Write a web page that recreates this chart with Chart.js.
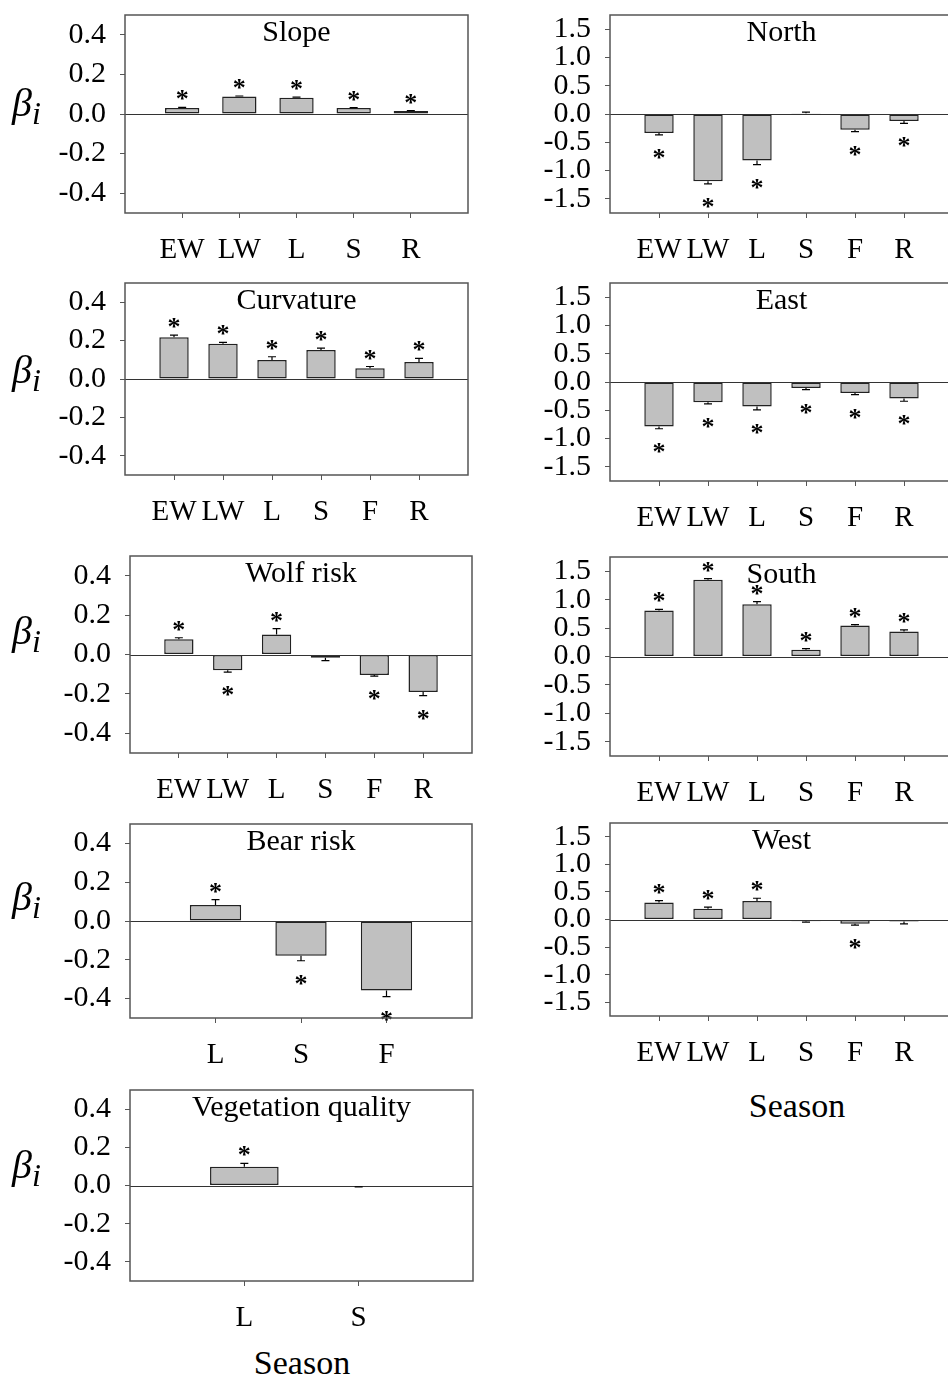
<!DOCTYPE html>
<html>
<head>
<meta charset="utf-8">
<title>Seasonal selection coefficients</title>
<script src="https://cdn.jsdelivr.net/npm/chart.js@4.4.1/dist/chart.umd.min.js"></script>
<style>
  html, body { margin: 0; padding: 0; background: #fff; }
  #figure { position: relative; width: 948px; height: 1378px; overflow: hidden; background: #fff; }
  #figure canvas { position: absolute; }
  .beta { position: absolute; left: 12px; font: italic 40px 'Liberation Serif', serif; line-height: 1; transform: translateY(-50%); white-space: nowrap; }
  .beta sub { font-size: 0.8em; vertical-align: -0.22em; }
  .season { position: absolute; font: 34px 'Liberation Serif', serif; transform: translate(-50%, -50%); white-space: nowrap; }
</style>
</head>
<body>
<div id="figure">
  <div class="season" style="left:302px; top:1363px">Season</div>
  <div class="season" style="left:797px; top:1106px">Season</div>
</div>
<script>
// seasons
const seasonsAll = ['EW', 'LW', 'L', 'S', 'F', 'R'];
const seasonsSlope = ['EW', 'LW', 'L', 'S', 'R'];
const seasonsBear = ['L', 'S', 'F'];
const seasonsVeg = ['L', 'S'];

// y tick labels
const ticksNarrow = [-0.4, -0.2, 0, 0.2, 0.4];
const ticksAspect = [-1.5, -1.0, -0.5, 0, 0.5, 1.0, 1.5];

// coefficients, standard errors and significance (1 = star)
const slopeBeta = [0.030, 0.088, 0.082, 0.030, 0.015];
const slopeSE = [0.003, 0.003, 0.003, 0.002, 0.002];
const slopeSig = [1, 1, 1, 1, 1];

const curvatureBeta = [0.217, 0.183, 0.099, 0.151, 0.056, 0.088];
const curvatureSE = [0.012, 0.008, 0.017, 0.010, 0.009, 0.019];
const curvatureSig = [1, 1, 1, 1, 1, 1];

const wolfBeta = [0.077, -0.080, 0.102, -0.017, -0.104, -0.190];
const wolfSE = [0.008, 0.009, 0.029, 0.014, 0.006, 0.019];
const wolfSig = [1, 1, 1, 0, 1, 1];

const bearBeta = [0.082, -0.179, -0.358];
const bearSE = [0.028, 0.026, 0.032];
const bearSig = [1, 1, 1];

const vegBeta = [0.098, -0.004];
const vegSE = [0.018, 0.003];
const vegSig = [1, 0];

const northBeta = [-0.335, -1.190, -0.824, 0.012, -0.277, -0.124];
const northSE = [0.035, 0.046, 0.070, 0.022, 0.035, 0.040];
const northSig = [1, 1, 1, 0, 1, 1];

const eastBeta = [-0.786, -0.358, -0.434, -0.105, -0.193, -0.293];
const eastSE = [0.040, 0.030, 0.060, 0.030, 0.030, 0.047];
const eastSig = [1, 1, 1, 1, 1, 1];

const southBeta = [0.807, 1.350, 0.917, 0.117, 0.544, 0.440];
const southSE = [0.023, 0.018, 0.047, 0.023, 0.018, 0.030];
const southSig = [1, 1, 1, 1, 1, 1];

const westBeta = [0.307, 0.193, 0.337, -0.030, -0.078, -0.036];
const westSE = [0.036, 0.030, 0.048, 0.018, 0.025, 0.042];
const westSig = [1, 1, 1, 0, 1, 0];

const FONT = "'Liberation Serif', 'Times New Roman', serif";
Chart.defaults.font.family = FONT;
Chart.defaults.color = '#000';

// box = plot frame [left, top, right, bottom] on the page
const panels = [
  { title: 'Slope', seasons: seasonsSlope, beta: slopeBeta, se: slopeSE, sig: slopeSig, ticks: ticksNarrow, lim: 0.5, box: [125, 15, 473, 213], betaY: 106 },
  { title: 'Curvature', seasons: seasonsAll, beta: curvatureBeta, se: curvatureSE, sig: curvatureSig, ticks: ticksNarrow, lim: 0.5, box: [125, 283, 473, 475], betaY: 373 },
  { title: 'Wolf risk', seasons: seasonsAll, beta: wolfBeta, se: wolfSE, sig: wolfSig, ticks: ticksNarrow, lim: 0.5, box: [130, 556, 477, 753], betaY: 634 },
  { title: 'Bear risk', seasons: seasonsBear, beta: bearBeta, se: bearSE, sig: bearSig, ticks: ticksNarrow, lim: 0.5, box: [130, 824, 477, 1018], betaY: 900 },
  { title: 'Vegetation quality', seasons: seasonsVeg, beta: vegBeta, se: vegSE, sig: vegSig, ticks: ticksNarrow, lim: 0.5, box: [130, 1090, 478, 1281], betaY: 1168 },
  { title: 'North', seasons: seasonsAll, beta: northBeta, se: northSE, sig: northSig, ticks: ticksAspect, lim: 1.75, box: [610, 15, 958, 213] },
  { title: 'East', seasons: seasonsAll, beta: eastBeta, se: eastSE, sig: eastSig, ticks: ticksAspect, lim: 1.75, box: [610, 283, 958, 481] },
  { title: 'South', seasons: seasonsAll, beta: southBeta, se: southSE, sig: southSig, ticks: ticksAspect, lim: 1.75, box: [610, 557, 958, 756] },
  { title: 'West', seasons: seasonsAll, beta: westBeta, se: westSE, sig: westSig, ticks: ticksAspect, lim: 1.75, box: [610, 823, 958, 1016] }
];

const TOP_PAD = 20;
const X_AXIS_H = 60;
const AXIS_GREY = '#555';

// zero line, one-sided error bars, stars, frame and panel title
const decorFor = (p) => ({
  id: 'panelDecor',
  afterDatasetsDraw(chart) {
    const { ctx, chartArea: a, scales: { y } } = chart;
    const meta = chart.getDatasetMeta(0);
    ctx.save();
    const y0 = Math.round(y.getPixelForValue(0)) + 0.5;
    ctx.strokeStyle = '#333';
    ctx.lineWidth = 1;
    ctx.beginPath();
    ctx.moveTo(a.left, y0);
    ctx.lineTo(a.right, y0);
    ctx.stroke();

    p.beta.forEach((b, i) => {
      const bar = meta.data[i + 1];
      const dir = b < 0 ? -1 : 1;
      const yBar = y.getPixelForValue(b);
      const yEnd = y.getPixelForValue(b + dir * p.se[i]);
      ctx.strokeStyle = '#000';
      ctx.lineWidth = 1.2;
      ctx.beginPath();
      ctx.moveTo(bar.x, yBar);
      ctx.lineTo(bar.x, yEnd);
      ctx.moveTo(bar.x - 4, yEnd);
      ctx.lineTo(bar.x + 4, yEnd);
      ctx.stroke();
      if (p.sig[i]) {
        const cy = dir > 0 ? yEnd - 14 : yEnd + 17;
        ctx.fillStyle = '#000';
        ctx.font = 'bold 26px ' + FONT;
        ctx.textAlign = 'center';
        ctx.textBaseline = 'alphabetic';
        ctx.fillText('*', bar.x, cy + 14);
      }
    });
    ctx.restore();
  },
  afterDraw(chart) {
    const { ctx, chartArea: a } = chart;
    ctx.save();
    ctx.strokeStyle = AXIS_GREY;
    ctx.lineWidth = 1.5;
    ctx.strokeRect(a.left, a.top, a.right - a.left, a.bottom - a.top);
    ctx.fillStyle = '#000';
    ctx.font = '30px ' + FONT;
    ctx.textAlign = 'center';
    ctx.textBaseline = 'middle';
    ctx.fillText(p.title, (a.left + a.right) / 2, a.top + 18);
    ctx.restore();
  }
});

const figure = document.getElementById('figure');

panels.forEach((p) => {
  const [left, top, right, bottom] = p.box;
  const canvasLeft = left < 400 ? 0 : 500;
  const yAxisW = left - canvasLeft;

  const canvas = document.createElement('canvas');
  canvas.width = right - canvasLeft + 10;
  canvas.height = bottom - top + TOP_PAD + X_AXIS_H;
  canvas.style.left = canvasLeft + 'px';
  canvas.style.top = (top - TOP_PAD) + 'px';
  figure.appendChild(canvas);

  if (p.betaY) {
    const lab = document.createElement('div');
    lab.className = 'beta';
    lab.style.top = p.betaY + 'px';
    lab.innerHTML = '&beta;<sub>i</sub>';
    figure.appendChild(lab);
  }

  const chart = new Chart(canvas, {
    type: 'bar',
    data: {
      labels: ['', ...p.seasons, ''],
      datasets: [{
        data: [null, ...p.beta, null],
        backgroundColor: '#c0c0c0',
        borderColor: '#222',
        borderWidth: 1.5,
        borderSkipped: false,
        categoryPercentage: 0.6,
        barPercentage: 1
      }]
    },
    options: {
      responsive: false,
      maintainAspectRatio: false,
      animation: false,
      layout: { padding: { top: TOP_PAD, right: 10, left: 0, bottom: 0 } },
      plugins: { legend: { display: false }, tooltip: { enabled: false } },
      scales: {
        x: {
          type: 'category',
          offset: false,
          border: { display: false },
          grid: {
            offset: false,
            drawOnChartArea: false,
            tickLength: 5,
            color: (c) => (c.tick && c.tick.label === '' ? 'rgba(0,0,0,0)' : AXIS_GREY)
          },
          ticks: { autoSkip: false, maxRotation: 0, padding: 15, font: { size: 29 } },
          afterFit: (s) => { s.height = X_AXIS_H; }
        },
        y: {
          min: -p.lim,
          max: p.lim,
          border: { display: false },
          grid: { drawOnChartArea: false, tickLength: 5, color: AXIS_GREY },
          ticks: { autoSkip: false, padding: 14, font: { size: 30 }, callback: (v) => Number(v).toFixed(1) },
          afterBuildTicks: (s) => { s.ticks = p.ticks.map((v) => ({ value: v })); },
          afterFit: (s) => { s.width = yAxisW; }
        }
      }
    },
    plugins: [decorFor(p)]
  });

  // the layout may add its own padding above the frame; grow the canvas so
  // the frame gets the wanted height, then slide it onto the box
  const area = chart.chartArea;
  const extra = (bottom - top) - (area.bottom - area.top);
  if (extra !== 0) {
    chart.resize(canvas.width, canvas.height + extra);
  }
  canvas.style.top = (top - chart.chartArea.top) + 'px';
  canvas.style.left = (left - chart.chartArea.left) + 'px';
});
</script>
</body>
</html>
